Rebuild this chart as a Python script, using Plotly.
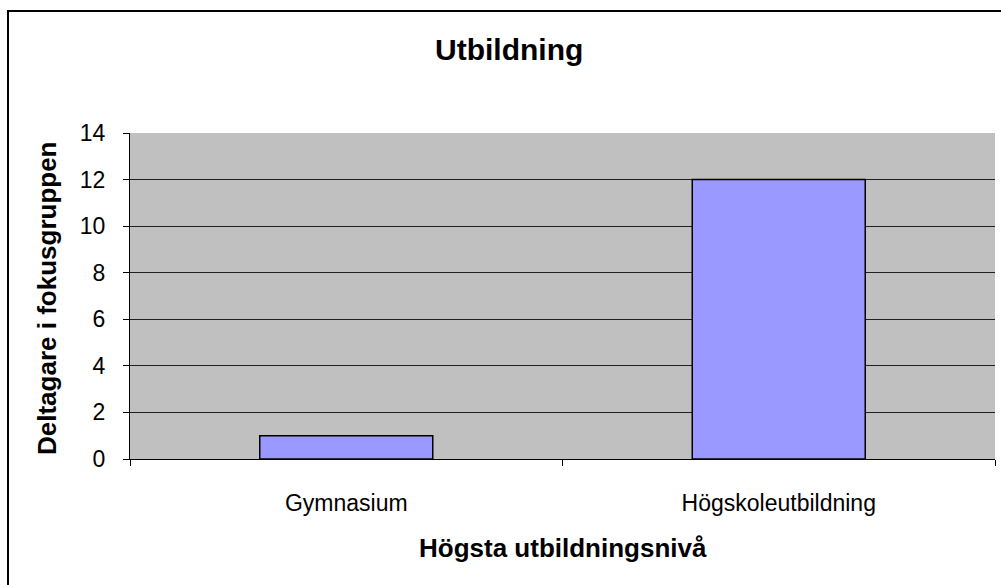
import plotly.graph_objects as go

categories = ["Gymnasium", "Högskoleutbildning"]
values = [1, 12]
y_ticks = [0, 2, 4, 6, 8, 10, 12, 14]

title_text = "Utbildning"
x_title = "Högsta utbildningsnivå"
y_title = "Deltagare i fokusgruppen"

W, H = 1001, 585
L, R, T, B = 130, 6, 133, 126
pw, ph = W - L - R, H - T - B

def px(x):
    return (x - L) / pw

def py(y):
    return (H - B - y) / ph

FONT = "Liberation Sans, Arial, sans-serif"

fig = go.Figure(
    go.Bar(
        x=categories,
        y=values,
        marker=dict(color="#9999FF", line=dict(color="#000000", width=1.5)),
        width=0.4,
    )
)

fig.update_layout(
    width=W,
    height=H,
    margin=dict(l=L, r=R, t=T, b=B),
    paper_bgcolor="white",
    plot_bgcolor="#C0C0C0",
    showlegend=False,
    font=dict(family=FONT, color="black"),
)

fig.update_xaxes(
    type="category",
    showline=True,
    linecolor="black",
    linewidth=1,
    ticks="outside",
    tickson="boundaries",
    ticklen=6,
    tickcolor="black",
    tickfont=dict(size=23, family=FONT, color="black"),
    ticklabelstandoff=23,
    showgrid=False,
    mirror=False,
)

fig.update_yaxes(
    range=[0, 14],
    tickvals=y_ticks,
    ticktext=[str(v) for v in y_ticks],
    showline=True,
    linecolor="black",
    linewidth=1,
    ticks="outside",
    ticklen=6,
    tickcolor="black",
    tickfont=dict(size=23, family=FONT, color="black"),
    ticklabelstandoff=13,
    showgrid=True,
    gridcolor="#202020",
    gridwidth=1,
    zeroline=False,
)

fig.add_annotation(
    text=f"<b>{title_text}</b>", xref="paper", yref="paper",
    x=px(509), y=py(50), showarrow=False, xanchor="center", yanchor="middle",
    font=dict(size=30, family=FONT, color="black"),
)
fig.add_annotation(
    text=f"<b>{x_title}</b>", xref="paper", yref="paper",
    x=px(563), y=py(548), showarrow=False, xanchor="center", yanchor="middle",
    font=dict(size=26, family=FONT, color="black"),
)
fig.add_annotation(
    text=f"<b>{y_title}</b>", xref="paper", yref="paper",
    x=px(47), y=py(298), showarrow=False, xanchor="center", yanchor="middle",
    textangle=-90,
    font=dict(size=26, family=FONT, color="black"),
)

fig.add_shape(
    type="rect", xref="paper", yref="paper",
    x0=px(8), x1=px(1020), y0=py(11), y1=py(620),
    line=dict(color="black", width=2), fillcolor="rgba(0,0,0,0)", layer="above",
)

fig.write_html(
    "out.html",
    config={"displayModeBar": False},
    post_script="document.body.style.margin='0';document.body.style.padding='0';",
)
